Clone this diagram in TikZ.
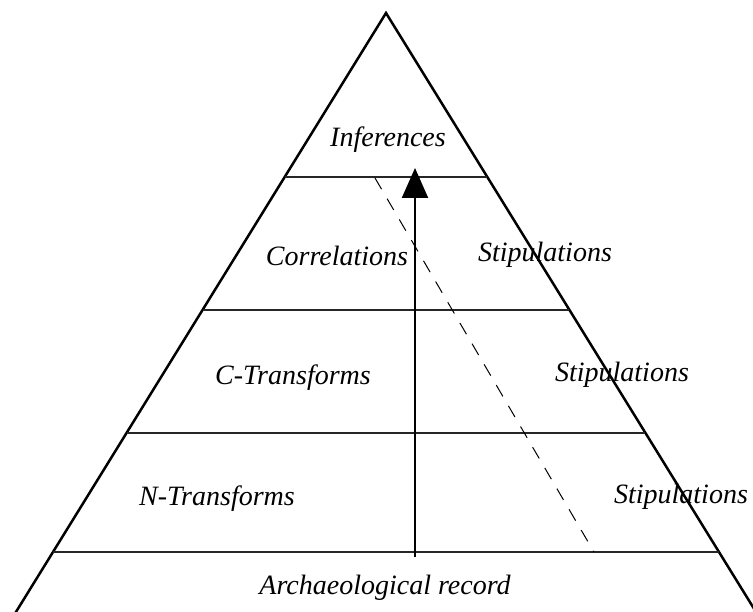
\documentclass[tikz,border=0pt]{standalone}
\usepackage{fontspec}
\setmainfont{Liberation Serif}
\usepackage{tikz}
\usetikzlibrary{arrows.meta}
\usetikzlibrary{calc}
\tikzset{lbl/.style={font=\fontsize{28}{28}\selectfont\itshape,inner sep=0pt,anchor=base}}
\tikzset{side/.style={line width=2.5pt}}
\tikzset{tier/.style={line width=1.5pt,black!85}}
\begin{document}
\begin{tikzpicture}[x=1pt,y=-1pt]
          \useasboundingbox (0,0) rectangle (753,612);
          \clip (0,0) rectangle (753,612);
          \coordinate (top) at (386,13);
          \coordinate (bl) at (11,620);
          \coordinate (br) at (761,620);
          \draw[side] (bl)--(top)--(br);
          \foreach \t in {0.2702,0.4893,0.6919,0.8880}
            \draw[tier] ($(top)!\t!(bl)$) -- ($(top)!\t!(br)$);
          \coordinate (dtop) at (375,178);
          \coordinate (dbot) at (594,552);
          \draw[line width=1pt,dash pattern=on 13pt off 11pt] (dtop) -- (dbot);
          \coordinate (tail) at (415,557);
          \coordinate (head) at (415,168);
          \draw[line width=2.2pt,-{Triangle[length=30pt,width=26pt]}] (tail) -- (head);
          \node[lbl] (inf) at (388,147) {Inferences};
          \node[lbl] (corr) at (337,266) {Correlations};
          \node[lbl] (stipa) at (545,262) {Stipulations};
          \node[lbl] (ctr) at (293,385) {C-Transforms};
          \node[lbl] (stipb) at (622,382) {Stipulations};
          \node[lbl] (ntr) at (217,505) {N-Transforms};
          \node[lbl] (stipc) at (681,503) {Stipulations};
          \node[lbl] (arch) at (385,594) {Archaeological record};
        \end{tikzpicture}
\end{document}
